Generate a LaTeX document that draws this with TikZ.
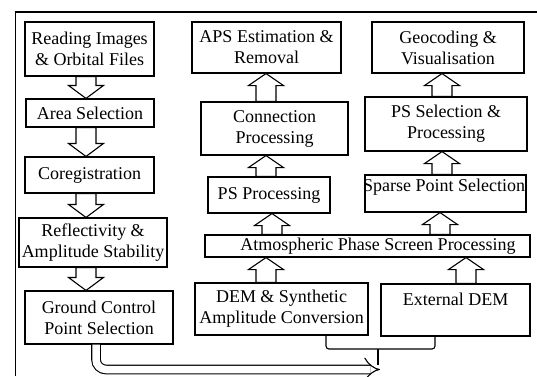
\documentclass[tikz,border=0pt]{standalone}
\usepackage{fontspec}
\setmainfont{Liberation Serif}
\usetikzlibrary{calc,arrows.meta}
\newcommand\blkdown[3]{\draw[blk] let \p1=(#2), \p2=(#3) in
 (#1pt,\y2) -- (#1pt-17.5pt,\y2+13pt) -- (#1pt-10pt,\y2+13pt) -- (#1pt-10pt,\y1) -- (#1pt+10pt,\y1) -- (#1pt+10pt,\y2+13pt) -- (#1pt+17.5pt,\y2+13pt) -- cycle;}
\newcommand\blkup[3]{\draw[blk] let \p1=(#2), \p2=(#3) in
 (#1pt,\y2) -- (#1pt-17.5pt,\y2-12pt) -- (#1pt-10pt,\y2-12pt) -- (#1pt-10pt,\y1) -- (#1pt+10pt,\y1) -- (#1pt+10pt,\y2-12pt) -- (#1pt+17.5pt,\y2-12pt) -- cycle;}
\begin{document}
\begin{tikzpicture}[x=1pt,y=-1pt,
 box/.style={draw, line width=1.1pt, inner sep=1pt, align=center, font=\fontsize{18}{21}\selectfont},
 txt/.style={inner sep=0pt, font=\fontsize{18}{21}\selectfont},
 blk/.style={draw, line width=1.1pt, fill=white, line join=miter},
 conn/.style={draw, line width=1.1pt},
 dbl/.style={draw, line width=1.1pt, double, double distance=7.5pt, -{Implies}}]
\useasboundingbox (0,0) rectangle (537,376);
% frame
\draw[line width=1pt] (15,376) -- (15,12);
\draw[line width=1.6pt] (14.5,12) -- (537,12);
% left column
\node[box, minimum width=129pt, minimum height=54pt] (read) at (89.5,49) {Reading Images\\\& Orbital Files};
\node[box, minimum width=128pt, minimum height=28pt] (area) at (90,113) {Area Selection};
\node[box, minimum width=129pt, minimum height=36pt] (coreg) at (89.5,175) {Coregistration};
\node[box, minimum width=148pt, minimum height=49pt] (refl) at (93,242.5) {Reflectivity \&\\Amplitude Stability};
\node[box, minimum width=148pt, minimum height=53pt] (gcp) at (99,317.5) {Ground Control\\Point Selection};
% middle column
\node[box, minimum width=149pt, minimum height=51pt] (aps) at (266.5,47.5) {APS Estimation \&\\Removal};
\node[box, minimum width=147pt, minimum height=53pt] (conn) at (274.5,128.5) {Connection\\Processing};
\node[box, minimum width=122pt, minimum height=36pt] (ps) at (269,195) {PS Processing};
\node[box, minimum width=325pt, minimum height=22pt] (atmos) at (367.5,246) {};
\node[txt] (atmost) at (378,246) {Atmospheric Phase Screen Processing};
\node[box, minimum width=173pt, minimum height=52pt] (dem) at (281.5,309) {DEM \& Synthetic\\Amplitude Conversion};
% right column
\node[box, minimum width=149pt, minimum height=52pt] (ext) at (455.5,310) {};
\node[txt] (extt) at (455.5,299) {External DEM};
\node[box, minimum width=161pt, minimum height=37pt] (sparse) at (445.5,193.5) {};
\node[txt] (sparset) at (444,187) {Sparse Point Selection};
\node[box, minimum width=162pt, minimum height=54pt] (pssel) at (446,124) {PS Selection \&\\Processing};
\node[box, minimum width=152pt, minimum height=51pt] (geo) at (448,47.5) {Geocoding \&\\Visualisation};
% hollow arrows
\blkdown{86}{read.south}{area.north}
\blkdown{86}{area.south}{coreg.north}
\blkdown{86}{coreg.south}{refl.north}
\blkdown{86}{refl.south}{gcp.north}
\blkup{266}{conn.north}{aps.south}
\blkup{266}{ps.north}{conn.south}
\blkup{272}{atmos.north}{ps.south}
\blkup{266}{dem.north}{atmos.south}
\blkup{466}{ext.north}{atmos.south}
\blkup{440}{atmos.north}{sparse.south}
\blkup{442}{sparse.north}{pssel.south}
\blkup{442}{pssel.north}{geo.south}
% bottom connectors
\coordinate (merge) at (378,349);
\coordinate (tip) at (380,369.5);
\draw[dbl, rounded corners=10pt] ([xshift=-3pt]gcp.south) |- (tip);
\draw[conn, rounded corners=3pt] ([xshift=44.5pt]dem.south) |- (merge);
\draw[conn, rounded corners=3pt] ([xshift=-20.5pt]ext.south) |- (merge);
\draw[conn] (merge) -- (378,365);
\end{tikzpicture}
\end{document}
